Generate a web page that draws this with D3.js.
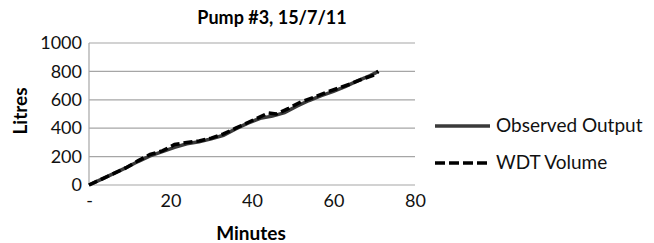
<!DOCTYPE html>
<html>
<head>
<meta charset="utf-8">
<script src="https://cdn.jsdelivr.net/npm/d3@7"></script>
<style>
  body { margin: 0; background: #fff; }
  svg { font-family: Lato, "Open Sans", sans-serif; }
</style>
</head>
<body>
<svg id="chart" width="654" height="243"></svg>
<script>
// readings (minutes, litres)
var observedMin = [0, 3, 6, 9, 12, 15, 18, 21, 24, 27, 30, 33, 36, 39, 42, 45, 48, 51, 54, 57, 60, 63, 66, 69, 71];
var observedL   = [0, 40, 80, 120, 165, 205, 235, 265, 290, 305, 325, 350, 395, 435, 470, 485, 510, 555, 595, 630, 660, 695, 735, 770, 800];
var wdtMin = [0, 3, 6, 9, 12, 15, 18, 21, 24, 27, 30, 33, 36, 39, 42, 44, 46, 49, 52, 55, 58, 61, 64, 67, 70, 71];
var wdtL   = [0, 40, 80, 120, 170, 215, 240, 285, 300, 310, 330, 360, 400, 440, 480, 508, 500, 540, 585, 615, 650, 680, 710, 745, 775, 800];
var xTicks = [0, 20, 40, 60, 80];
var yTicks = [0, 200, 400, 600, 800, 1000];
var seriesNames = ['Observed Output', 'WDT Volume'];

var svg = d3.select('#chart');
// plot box (window.top is taken, so these get a prefix)
var plotLeft = 89, plotRight = 415, plotTop = 43, plotBottom = 185;

var x = d3.scaleLinear().domain([0, 80]).range([plotLeft, plotRight]);
var y = d3.scaleLinear().domain([0, 1000]).range([plotBottom, plotTop]);

// gridlines
svg.append('g')
	.selectAll('line')
	.data(yTicks)
	.enter().append('line')
	.attr('x1', plotLeft).attr('x2', plotRight)
	.attr('y1', d => y(d)).attr('y2', d => y(d))
	.attr('stroke', '#a6a6a6').attr('stroke-width', 1.2);

// y axis line
svg.append('line')
	.attr('x1', plotLeft).attr('x2', plotLeft)
	.attr('y1', plotTop).attr('y2', plotBottom)
	.attr('stroke', '#a6a6a6').attr('stroke-width', 1.2);

var yAxis = svg.append('g')
	.attr('transform', `translate(${plotLeft},0)`)
	.call(d3.axisLeft(y).tickValues(yTicks).tickSize(0).tickPadding(7).tickFormat(d3.format('d')));
yAxis.select('.domain').remove();
yAxis.selectAll('text').attr('font-size', 18).attr('fill', '#111').attr('font-family', 'Lato, sans-serif');

var xAxis = svg.append('g')
	.attr('transform', `translate(0,${plotBottom})`)
	.call(d3.axisBottom(x).tickValues(xTicks).tickSize(0).tickPadding(9)
		.tickFormat(d => d === 0 ? '-' : d));
xAxis.select('.domain').remove();
xAxis.selectAll('text').attr('font-size', 18).attr('fill', '#111').attr('font-family', 'Lato, sans-serif');

var line = d3.line().x(d => x(d[0])).y(d => y(d[1]));

svg.append('path')
	.datum(d3.zip(observedMin, observedL))
	.attr('d', line)
	.attr('fill', 'none')
	.attr('stroke', '#3a3a3a')
	.attr('stroke-width', 3.5);

svg.append('path')
	.datum(d3.zip(wdtMin, wdtL))
	.attr('d', line)
	.attr('fill', 'none')
	.attr('stroke', '#000')
	.attr('stroke-width', 3.5)
	.attr('stroke-dasharray', '9,4');

// title and axis titles
svg.append('text')
	.attr('x', 272).attr('y', 24)
	.attr('text-anchor', 'middle')
	.attr('font-size', 18).attr('font-weight', 'bold')
	.text('Pump #3, 15/7/11');

svg.append('text')
	.attr('x', 251).attr('y', 240)
	.attr('text-anchor', 'middle')
	.attr('font-size', 19).attr('font-weight', 'bold')
	.text('Minutes');

svg.append('text')
	.attr('transform', 'translate(27,111) rotate(-90)')
	.attr('text-anchor', 'middle')
	.attr('font-size', 19).attr('font-weight', 'bold')
	.text('Litres');

// legend
var legend = svg.append('g').selectAll('g')
	.data(seriesNames)
	.enter().append('g')
	.attr('transform', (d, i) => `translate(435,${126 + i * 37})`);

legend.append('line')
	.attr('x1', 0).attr('x2', 55)
	.attr('stroke', (d, i) => i === 0 ? '#3a3a3a' : '#000')
	.attr('stroke-width', 3.5)
	.attr('stroke-dasharray', (d, i) => i === 0 ? null : '10,4');

legend.append('text')
	.attr('x', 61).attr('y', 6)
	.attr('font-size', 19)
	.attr('fill', '#111')
	.text(d => d);
</script>
</body>
</html>
